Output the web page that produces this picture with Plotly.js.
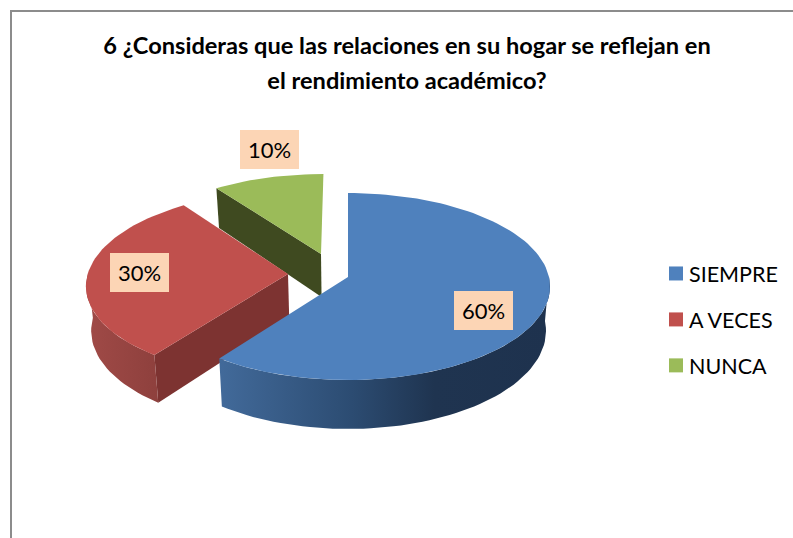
<!DOCTYPE html>
<html>
<head>
<meta charset="utf-8">
<script src="https://cdn.plot.ly/plotly-3.0.1.min.js"></script>
<style>html,body{margin:0;padding:0;background:#fff}#chart{width:793px;height:538px}</style>
</head>
<body>
<div id="chart"></div>
<script>
const categories = ['SIEMPRE', 'A VECES', 'NUNCA'];
const percentages = [60, 30, 10];
const topColors = ['#4f81bd', '#c0504d', '#9bbb59'];
const titleLines = ['6 ¿Consideras que las relaciones en su hogar se reflejan en', 'el rendimiento académico?'];

// Projection of the tilted pie onto the chart plane
const centre = {x: 348, y: 277};
const rx = 201, ry = 92.5, persp = 0.1016, depth = 44, bottomScale = 0.98;
const sliceShift = [[0, 0], [-60, -3], [-27, -23]];
const wallRamps = [
  {c: [[0, '#426a9a'], [0.4, '#2c4c72'], [0.65, '#1f3450'], [1, '#1e324e']], cut: '#2c4c72'},
  {c: [[0, '#a04a47'], [1, '#8e403d']], cut: '#7d3331'},
  {c: [[0, '#3f4a20'], [1, '#3f4a20']], cut: '#3f4a20'}
];
const labelBoxes = [[483.5, 310.5], [139.5, 272.5], [269.5, 149.5]];
const FONT = 'Lato, Carlito, Calibri, sans-serif';

function project(u, v, low) {
  const w = 1 - persp * v;
  let x = centre.x + rx * u / w;
  let y = centre.y + ry * v / w;
  if (low) {
    x = centre.x + (x - centre.x) * bottomScale;
    y += depth / w;
  }
  return [x, y];
}
function shiftToDisk(dx, dy) {
  const v = dy / (ry + persp * dy);
  return [dx * (1 - persp * v) / rx, v];
}
function rim(a, off, low) {
  const t = a * Math.PI / 180;
  return project(off[0] + Math.sin(t), off[1] - Math.cos(t), low);
}
function ring(a1, a2, off, low) {
  const pts = [];
  const n = Math.max(2, Math.ceil(Math.abs(a2 - a1) / 2));
  for (let i = 0; i <= n; i++) pts.push(rim(a1 + (a2 - a1) * i / n, off, low));
  return pts;
}
function poly(pts, fill, grad) {
  const t = {
    type: 'scatter', mode: 'lines', fill: 'toself', hoverinfo: 'skip', showlegend: false,
    x: pts.map(p => p[0]).concat(pts[0][0]), y: pts.map(p => p[1]).concat(pts[0][1]),
    line: {width: 0, color: fill}, fillcolor: fill
  };
  if (grad) t.fillgradient = {type: 'horizontal', colorscale: grad};
  return t;
}

const total = percentages.reduce((a, b) => a + b, 0);
const traces = [];
let acc = 0;
const spans = percentages.map(p => { const s = [acc, acc + p / total * 360]; acc = s[1]; return s; });

[2, 1, 0].forEach(i => {
  const [a1, a2] = spans[i];
  const off = shiftToDisk(sliceShift[i][0], sliceShift[i][1]);
  const apexTop = project(off[0], off[1], false);
  const apexLow = project(off[0], off[1], true);
  // visible cut face on the starting edge
  if (a1 > 180 && a1 < 360) {
    traces.push(poly([apexTop, rim(a1, off, false), rim(a1, off, true), apexLow], wallRamps[i].cut));
  }
  // visible outer wall
  const w1 = Math.max(a1, 90), w2 = Math.min(a2, 270);
  if (w2 > w1) {
    const upper = ring(w1, w2, off, false);
    const lower = ring(w1, w2, off, true).reverse();
    traces.push(poly(upper.concat(lower), wallRamps[i].c[0][1], wallRamps[i].c));
  }
  // top face
  traces.push(poly([apexTop].concat(ring(a1, a2, off, false)), topColors[i]));
});

// legend entries
categories.forEach((name, i) => {
  traces.push({
    type: 'scatter', mode: 'markers', x: [null], y: [null], name: name, legendgroup: name,
    marker: {symbol: 'square', size: 14, color: topColors[i]}, showlegend: true, hoverinfo: 'skip'
  });
});

const annotations = percentages.map((p, i) => ({
  xref: 'x', yref: 'y', x: labelBoxes[i][0], y: labelBoxes[i][1], text: p + '%', showarrow: false,
  width: 59, height: 39, bgcolor: '#fcd5b5', borderpad: 0, borderwidth: 0,
  font: {family: FONT, size: 22, color: '#000'}, align: 'center', valign: 'middle'
}));

const titleText = titleLines.map(l => '<span style="font-size:23.6px">' + l + '</span>').join('<br>');
const layout = {
  width: 793, height: 538, margin: {l: 0, r: 0, t: 0, b: 0},
  paper_bgcolor: '#fff', plot_bgcolor: '#fff',
  title: {text: titleText, x: 407 / 793, xanchor: 'center', y: 0.9, yanchor: 'middle',
          font: {family: FONT, size: 27, color: '#000', weight: 700}},
  xaxis: {range: [0, 793], visible: false, fixedrange: true},
  yaxis: {range: [538, 0], visible: false, fixedrange: true},
  showlegend: true,
  legend: {x: 649 / 793, xanchor: 'left', y: 1 - 253 / 538, yanchor: 'top', traceorder: 'grouped',
           tracegroupgap: 15, bgcolor: 'rgba(0,0,0,0)',
           font: {family: FONT, size: 21.5, color: '#000'}},
  annotations: annotations,
  shapes: [
    {type: 'line', xref: 'x', yref: 'y', x0: 11, x1: 11, y0: 10, y1: 538, line: {color: '#8c8c8c', width: 2}},
    {type: 'line', xref: 'x', yref: 'y', x0: 10, x1: 793, y0: 11, y1: 11, line: {color: '#8c8c8c', width: 2}}
  ]
};
Plotly.newPlot('chart', traces, layout, {displayModeBar: false, staticPlot: true}).then(gd => {
  gd.querySelectorAll('.legend .legendsymbols').forEach(s => s.setAttribute('transform', 'translate(7,0)'));
});
</script>
</body>
</html>
